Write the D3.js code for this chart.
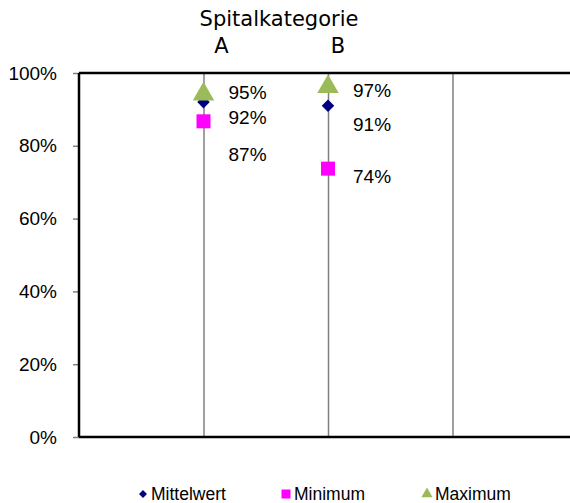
<!DOCTYPE html>
<meta charset="utf-8">
<head>
  <title>Spitalkategorie</title>
</head>

<style>
body {
  margin: 0;
  background: #fff;
}
svg text {
  font-family: "Liberation Sans", Arial, sans-serif;
  fill: #000;
}
</style>

<body>
  <div id="chart"></div>

  <script src="https://cdnjs.cloudflare.com/ajax/libs/d3/7.8.5/d3.min.js"></script>

  <script>
// data
var categories = ['A', 'B'];
var mittelwert = [0.92, 0.91];
var minimum = [0.87, 0.74];
var maximum = [0.95, 0.97];
var yTicks = [0, 0.2, 0.4, 0.6, 0.8, 1.0];

// label nudges (px below the point), one per category
var nudgeMittel = [22, 25];
var nudgeMin = [41, 15];
var nudgeMax = [8, 13];

var W = 570, H = 503;
var plotL = 79, plotR = 577, plotT = 73, plotB = 437;

var svg = d3.select('#chart').append('svg')
  .attr('width', W)
  .attr('height', H);

// category index 0..4, points sit on the gridlines
var x = d3.scaleLinear().domain([0, 4]).range([plotL, plotR]);
var y = d3.scaleLinear().domain([0, 1]).range([plotB, plotT]);

// vertical category gridlines
svg.append('g')
  .attr('transform', 'translate(0,' + plotB + ')')
  .call(d3.axisBottom(x).tickValues([1, 2, 3]).tickSize(-(plotB - plotT)).tickFormat(''))
  .call(function(g) {
    g.select('.domain').remove();
    g.selectAll('line').attr('stroke', '#808080').attr('stroke-width', 1.5);
  });

// y axis
svg.append('g')
  .attr('transform', 'translate(' + plotL + ',0)')
  .call(d3.axisLeft(y).tickValues(yTicks).tickFormat(d3.format('.0%')).tickSize(6).tickPadding(16))
  .call(function(g) {
    g.select('.domain').remove();
    g.selectAll('line').attr('stroke', '#808080').attr('stroke-width', 1.5);
    g.selectAll('text').style('font-size', '19px').attr('fill', '#000');
  });

// frame lines: left, bottom, top
svg.append('line')
  .attr('x1', plotL).attr('x2', plotL).attr('y1', plotT).attr('y2', plotB)
  .attr('stroke', '#000').attr('stroke-width', 2.5);
svg.append('line')
  .attr('x1', plotL).attr('x2', W).attr('y1', plotB).attr('y2', plotB)
  .attr('stroke', '#000').attr('stroke-width', 2.5);
svg.append('line')
  .attr('x1', plotL).attr('x2', W).attr('y1', plotT).attr('y2', plotT)
  .attr('stroke', '#000').attr('stroke-width', 2.5);

// title and category labels on top
svg.append('text')
  .attr('x', 279).attr('y', 26)
  .attr('text-anchor', 'middle')
  .style('font-family', '"DejaVu Sans", sans-serif')
  .style('font-size', '21px')
  .text('Spitalkategorie');

var catLabelShift = [18, 10];
svg.selectAll('.cat')
  .data(categories)
  .enter().append('text')
  .attr('class', 'cat')
  .attr('x', function(d, i) { return x(i + 1) + catLabelShift[i]; })
  .attr('y', 53)
  .attr('text-anchor', 'middle')
  .style('font-family', '"DejaVu Sans", sans-serif')
  .style('font-size', '21px')
  .text(function(d) { return d; });

var series = [
  {name: 'Mittelwert', values: mittelwert, nudge: nudgeMittel, color: '#000080', sym: d3.symbolDiamond2, size: 100, dy: 0, legendSize: 40},
  {name: 'Minimum', values: minimum, nudge: nudgeMin, color: '#FF00FF', sym: d3.symbolSquare, size: 196, dy: 1, legendSize: 81},
  {name: 'Maximum', values: maximum, nudge: nudgeMax, color: '#9BBB59', sym: d3.symbolTriangle, size: 200, dy: 3, legendSize: 55}
];

series.forEach(function(s) {
  svg.selectAll(null)
    .data(s.values)
    .enter().append('path')
    .attr('d', d3.symbol().type(s.sym).size(s.size))
    .attr('transform', function(d, i) { return 'translate(' + x(i + 1) + ',' + (y(d) + s.dy) + ')'; })
    .attr('fill', s.color);
});

series.forEach(function(s) {
  svg.selectAll(null)
    .data(s.values)
    .enter().append('text')
    .attr('x', function(d, i) { return x(i + 1) + 25; })
    .attr('y', function(d, i) { return y(d) + s.nudge[i]; })
    .style('font-size', '19px')
    .text(function(d) { return d3.format('.0%')(d); });
});

// legend
var legendX = [143, 286, 427];
var legend = svg.selectAll('.legend')
  .data(series)
  .enter().append('g')
  .attr('class', 'legend')
  .attr('transform', function(d, i) { return 'translate(' + legendX[i] + ',494)'; });

legend.append('path')
  .attr('d', function(d) { return d3.symbol().type(d.sym).size(d.legendSize)(); })
  .attr('fill', function(d) { return d.color; });

legend.append('text')
  .attr('x', 8)
  .attr('y', 6)
  .style('font-size', '17.5px')
  .text(function(d) { return d.name; });
  </script>
</body>
</html>
